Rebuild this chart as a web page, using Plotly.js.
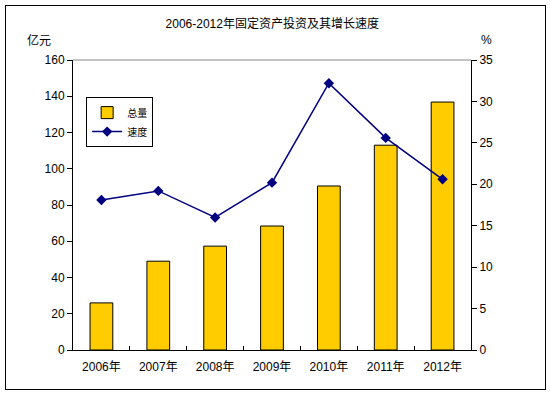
<!DOCTYPE html>
<html><head><meta charset="utf-8">
<script src="https://cdn.plot.ly/plotly-3.0.1.min.js"></script>
<style>
body{margin:0;padding:0;background:#fff;}
#wrap{position:relative;width:550px;height:395px;}
#chart{width:550px;height:395px;}
#frame{position:absolute;left:5px;top:5px;width:539px;height:383px;border:1px solid #000;pointer-events:none;}
</style></head>
<body><div id="wrap"><div id="chart"></div><div id="frame"></div></div>
<script>
const years = ["2006年","2007年","2008年","2009年","2010年","2011年","2012年"];
const totals = [26, 49, 57.3, 68.4, 90.5, 113, 136.8];
const growth = [18.1, 19.2, 16.0, 20.2, 32.2, 25.6, 20.6];
const leftTicks = [0,20,40,60,80,100,120,140,160];
const rightTicks = [0,5,10,15,20,25,30,35];

const font = "Liberation Sans, Arial, Noto Sans CJK SC, sans-serif";

const data = [
  {type:"bar", x:years, y:totals, name:"总量",
   marker:{color:"#FFCC00", line:{color:"#000", width:1}}},
  {type:"scatter", mode:"lines+markers", x:years, y:growth, name:"速度", yaxis:"y2",
   line:{color:"#000080", width:1.5},
   marker:{symbol:"diamond", size:8, color:"#000080"}}
];

const layout = {
  width:550, height:395,
  margin:{l:73, r:79, t:60, b:45},
  paper_bgcolor:"#fff", plot_bgcolor:"#fff",
  font:{family:font, size:11, color:"#000"},
  showlegend:true,
  bargap:0.6,
  legend:{x:0.033, y:0.872, xanchor:"left", yanchor:"top",
    bordercolor:"#000", borderwidth:1, bgcolor:"#fff",
    font:{family:"Noto Sans CJK SC, sans-serif", size:10},
    tracegroupgap:0, itemwidth:30},
  title:{text:"2006-2012年固定资产投资及其增长速度", x:0.495, xanchor:"center", y:0.94, yanchor:"middle",
    font:{family:"Liberation Sans, Noto Sans CJK SC, sans-serif", size:12}},
  xaxis:{type:"category", showline:true, linecolor:"#000", linewidth:1,
    ticks:"inside", tickson:"boundaries", ticklen:4, tickcolor:"#000",
    showgrid:false, zeroline:false, mirror:false, ticklabelstandoff:6,
    tickfont:{family:"Liberation Sans, Noto Sans CJK SC, sans-serif", size:12}},
  yaxis:{range:[0,160], tickvals:leftTicks, showline:true, linecolor:"#000", linewidth:1,
    ticks:"outside", ticklen:5, tickcolor:"#000", showgrid:false, zeroline:false,
    tickfont:{size:12}},
  yaxis2:{range:[0,35], tickvals:rightTicks, overlaying:"y", side:"right",
    showline:true, linecolor:"#000", linewidth:1,
    ticks:"outside", ticklen:5, tickcolor:"#000", showgrid:false, zeroline:false,
    tickfont:{size:12}},
  shapes:[
    {type:"line", xref:"paper", yref:"paper", x0:0, x1:1, y0:1, y1:1,
     line:{color:"#888", width:1}}
  ],
  annotations:[
    {text:"亿元", xref:"paper", yref:"paper", x:-0.085, y:1.07, xanchor:"center", yanchor:"middle",
     showarrow:false, font:{family:"Noto Sans CJK SC, sans-serif", size:12}},
    {text:"%", xref:"paper", yref:"paper", x:1.04, y:1.07, xanchor:"center", yanchor:"middle",
     showarrow:false, font:{size:12}}
  ]
};

Plotly.newPlot("chart", data, layout, {displayModeBar:false, staticPlot:true});
</script>
</body></html>
